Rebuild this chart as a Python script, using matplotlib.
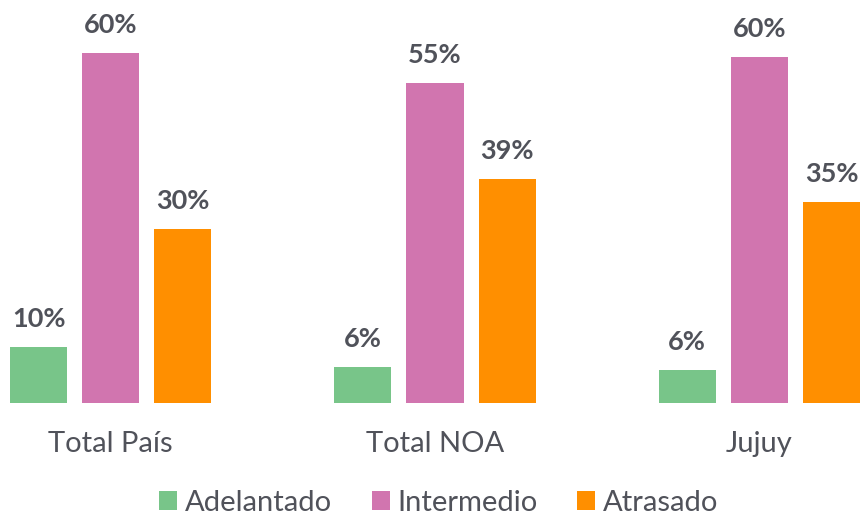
import matplotlib
matplotlib.use("Agg")
import matplotlib.pyplot as plt
import numpy as np

categories = ["Total País", "Total NOA", "Jujuy"]
series_names = ["Adelantado", "Intermedio", "Atrasado"]
adelantado = [9.7, 6.2, 5.7]
intermedio = [60.4, 55.3, 59.7]
atrasado = [30.0, 38.7, 34.7]
colors = ["#78C589", "#D175AF", "#FF8F00"]
text_color = "#50525A"

plt.rcParams['font.family'] = ['Lato', 'DejaVu Sans']

fig = plt.figure(figsize=(8.62, 5.18), dpi=100)
ax = fig.add_axes([10/862, 115/518, 850/862, 403/518])

group_x = np.arange(len(categories)) * 4.5
width = 57/72
for i, (vals, name, c) in enumerate(zip([adelantado, intermedio, atrasado], series_names, colors)):
    xs = group_x + (i - 1)
    bars = ax.bar(xs, vals, width=width, color=c, label=name)
    for x, v in zip(xs, vals):
        ax.annotate(f"{v:.0f}%", (x, v), xytext=(0, 16), textcoords="offset pixels",
                    ha="center", va="bottom", fontsize=19.5, fontweight="bold", color=text_color)

ax.set_xlim(-1 - width/2, group_x[-1] + 1 + width/2)
ax.set_ylim(0, 403/5.79)
ax.set_xticks(group_x)
ax.set_xticklabels(categories, fontsize=21, color=text_color)
ax.tick_params(axis='x', length=0, pad=20)
ax.set_yticks([])
for s in ax.spines.values():
    s.set_visible(False)

leg = fig.legend(loc="center", bbox_to_anchor=(0.5 + 8/862, 1 - 503/518), ncol=3, frameon=False,
                 fontsize=21, handlelength=0.62, handleheight=0.62, columnspacing=1.35,
                 handletextpad=0.27, labelcolor=text_color, borderpad=0.1)

fig.savefig("out.png", dpi=100)
